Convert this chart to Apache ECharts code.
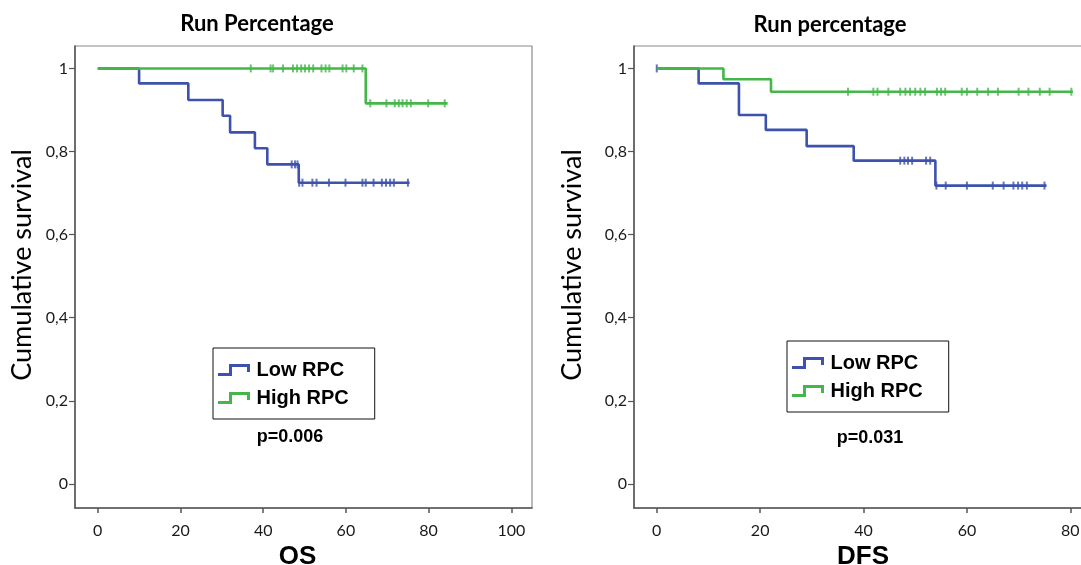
<!DOCTYPE html>
<html>
<head>
<meta charset="utf-8">
<title>Run percentage survival</title>
<script src="https://cdn.jsdelivr.net/npm/echarts@6.0.0/dist/echarts.min.js"></script>
<style>
  html, body { margin: 0; padding: 0; background: #fff; }
  #chart { width: 1081px; height: 565px; }
</style>
</head>
<body>
<div id="chart"></div>
<script>
// ---- data (months, cumulative survival) ----
// OS panel
const osLowTimes = [0, 10.0, 21.9, 30.2, 32.0, 38.0, 41.0, 48.6, 75.4];
const osLowSurv = [1, 0.964, 0.924, 0.886, 0.846, 0.808, 0.769, 0.725, 0.725];
const osLowCensored = [46.9, 47.7, 48.3, 48.7, 49.5, 51.9, 52.9, 55.9, 59.9, 64.0, 64.8, 66.7, 68.7, 69.7, 70.7, 71.6, 75.0];
const osHighTimes = [0, 64.8, 84.6];
const osHighSurv = [1, 0.916, 0.916];
const osHighCensored = [37.0, 41.8, 42.4, 44.8, 47.2, 48.2, 49.2, 50.1, 51.1, 52.1, 54.1, 55.1, 56.0, 59.2, 60.1, 61.9, 64.0,
  65.9, 69.8, 71.8, 72.8, 73.7, 74.7, 75.7, 79.9, 83.9];

// DFS panel
const dfsLowTimes = [0, 8.1, 15.9, 21.1, 29.0, 38.1, 53.9, 75.4];
const dfsLowSurv = [1, 0.964, 0.888, 0.852, 0.813, 0.778, 0.718, 0.718];
const dfsLowCensored = [0, 47.1, 47.9, 48.6, 49.4, 52.1, 52.9, 54.1, 55.9, 60.0, 65.0, 67.1, 69.0, 69.9, 70.7, 71.6, 75.0];
const dfsHighTimes = [0, 12.9, 22.1, 80.5];
const dfsHighSurv = [1, 0.974, 0.944, 0.944];
const dfsHighCensored = [37.0, 41.9, 42.7, 44.8, 47.1, 48.1, 49.0, 50.0, 51.0, 51.9, 54.2, 55.0, 55.8, 59.0, 60.0, 62.0,
  64.1, 66.0, 70.0, 71.9, 74.1, 76.0, 80.2];

const yTicks = [0, 0.2, 0.4, 0.6, 0.8, 1];
const osTicks = [0, 20, 40, 60, 80, 100];
const dfsTicks = [0, 20, 40, 60, 80];

const groupNames = ['Low RPC', 'High RPC'];
const pValues = ['p=0.006', 'p=0.031'];
const panelTitles = ['Run Percentage', 'Run percentage'];

const BLUE = '#3d52ad';
const GREEN = '#45b649';
const AXIS = '#555';
const TXT = '#1a1a1a';
const CAL = 'Lato, "Open Sans", sans-serif';
const ARIAL = '"Liberation Sans Narrow", "Liberation Sans", Arial, sans-serif';

// step pairs for the KM line
function steps(times, surv) {
  return times.map((t, i) => [t, surv[i]]);
}
// censor ticks sit on the curve value at that time
function censorMarks(times, surv, cens) {
  return cens.map(t => {
    let s = surv[0];
    for (let i = 0; i < times.length; i++) {
      if (times[i] <= t) s = surv[i];
    }
    return [t, s];
  });
}

function kmSeries(gi, name, color, times, surv, cens) {
  return [{
    name: name,
    type: 'line',
    xAxisIndex: gi,
    yAxisIndex: gi,
    step: 'end',
    symbol: 'none',
    data: steps(times, surv),
    itemStyle: { color: color },
    lineStyle: { color: color, width: 2.6 },
    animation: false
  }, {
    name: name + ' censored',
    type: 'scatter',
    xAxisIndex: gi,
    yAxisIndex: gi,
    symbol: 'rect',
    symbolSize: [2, 8],
    itemStyle: { color: color },
    data: censorMarks(times, surv, cens),
    animation: false
  }];
}

function xAxisOf(gi, min, max, ticks, name, namePad) {
  return {
    gridIndex: gi,
    type: 'value',
    min: min,
    max: max,
    axisLine: { show: true, onZero: false, lineStyle: { color: AXIS, width: 1.5 } },
    axisTick: { show: true, length: 5, customValues: ticks, lineStyle: { color: AXIS, width: 1.5 } },
    axisLabel: { customValues: ticks, color: TXT, fontSize: 16, fontFamily: CAL, margin: 15 },
    splitLine: { show: false },
    name: name,
    nameLocation: 'middle',
    nameGap: 32,
    nameTextStyle: {
      color: '#000', fontSize: 26, fontWeight: 'bold', fontFamily: ARIAL,
      padding: namePad
    }
  };
}

function yAxisOf(gi) {
  return {
    gridIndex: gi,
    type: 'value',
    min: -0.058,
    max: 1.054,
    axisLine: { show: true, onZero: false, lineStyle: { color: AXIS, width: 1.5 } },
    axisTick: { show: true, length: 6, customValues: yTicks, lineStyle: { color: AXIS, width: 1.2 } },
    axisLabel: {
      customValues: yTicks, color: TXT, fontSize: 16, fontFamily: CAL, margin: 7,
      formatter: v => String(v).replace('.', ',')
    },
    splitLine: { show: false }
  };
}

const stepIcon = 'path://M0,10 L11,10 L11,1 L32,1 L32,9 L29,9 L29,4 L14,4 L14,13 L0,13 Z';

function legendOf(left, top) {
  return {
    data: groupNames,
    orient: 'vertical',
    left: left,
    top: top,
    icon: stepIcon,
    itemWidth: 35,
    itemHeight: 12,
    itemGap: 8,
    padding: [12, 26, 11, 5],
    borderColor: '#111',
    borderWidth: 1,
    selectedMode: false,
    itemStyle: { borderWidth: 0 },
    textStyle: { color: '#000', fontSize: 20, fontWeight: 'bold', fontFamily: '"Liberation Sans", Arial, sans-serif' }
  };
}

function label(text, x, y, size, family, rotate) {
  return {
    type: 'text',
    x: x,
    y: y,
    rotation: rotate || 0,
    style: {
      text: text,
      fill: '#000',
      font: size + ' ' + family,
      align: 'center',
      verticalAlign: 'middle'
    }
  };
}

const chart = echarts.init(document.getElementById('chart'), null, { renderer: 'canvas' });

chart.setOption({
  backgroundColor: '#fff',
  animation: false,
  grid: [
    { left: 75, top: 46, width: 457, height: 462, outerBoundsMode: 'none', containLabel: false,
      show: true, borderColor: '#8a8a8a', borderWidth: 1.2 },
    { left: 634, top: 46, width: 488, height: 462, outerBoundsMode: 'none', containLabel: false,
      show: true, borderColor: '#8a8a8a', borderWidth: 1.2 }
  ],
  xAxis: [
    xAxisOf(0, -5.5, 105, osTicks, 'OS', [0, 12, 0, 0]),
    xAxisOf(1, -4.4, 90, dfsTicks, 'DFS', [0, 30, 0, 0])
  ],
  yAxis: [yAxisOf(0), yAxisOf(1)],
  legend: [legendOf(213, 348), legendOf(787, 341)],
  graphic: [
    label(panelTitles[0], 257, 24, 'bold 22px', CAL),
    label(panelTitles[1], 830, 25, 'bold 22px', CAL),
    label(pValues[0], 290, 437, 'bold 18px', '"Liberation Sans", Arial, sans-serif'),
    label(pValues[1], 870, 438, 'bold 18px', '"Liberation Sans", Arial, sans-serif'),
    label('Cumulative survival', 22, 265, '27px', CAL, Math.PI / 2),
    label('Cumulative survival', 572, 265, '27px', CAL, Math.PI / 2)
  ],
  series: [].concat(
    kmSeries(0, groupNames[0], BLUE, osLowTimes, osLowSurv, osLowCensored),
    kmSeries(0, groupNames[1], GREEN, osHighTimes, osHighSurv, osHighCensored),
    kmSeries(1, groupNames[0], BLUE, dfsLowTimes, dfsLowSurv, dfsLowCensored),
    kmSeries(1, groupNames[1], GREEN, dfsHighTimes, dfsHighSurv, dfsHighCensored)
  )
});
</script>
</body>
</html>
